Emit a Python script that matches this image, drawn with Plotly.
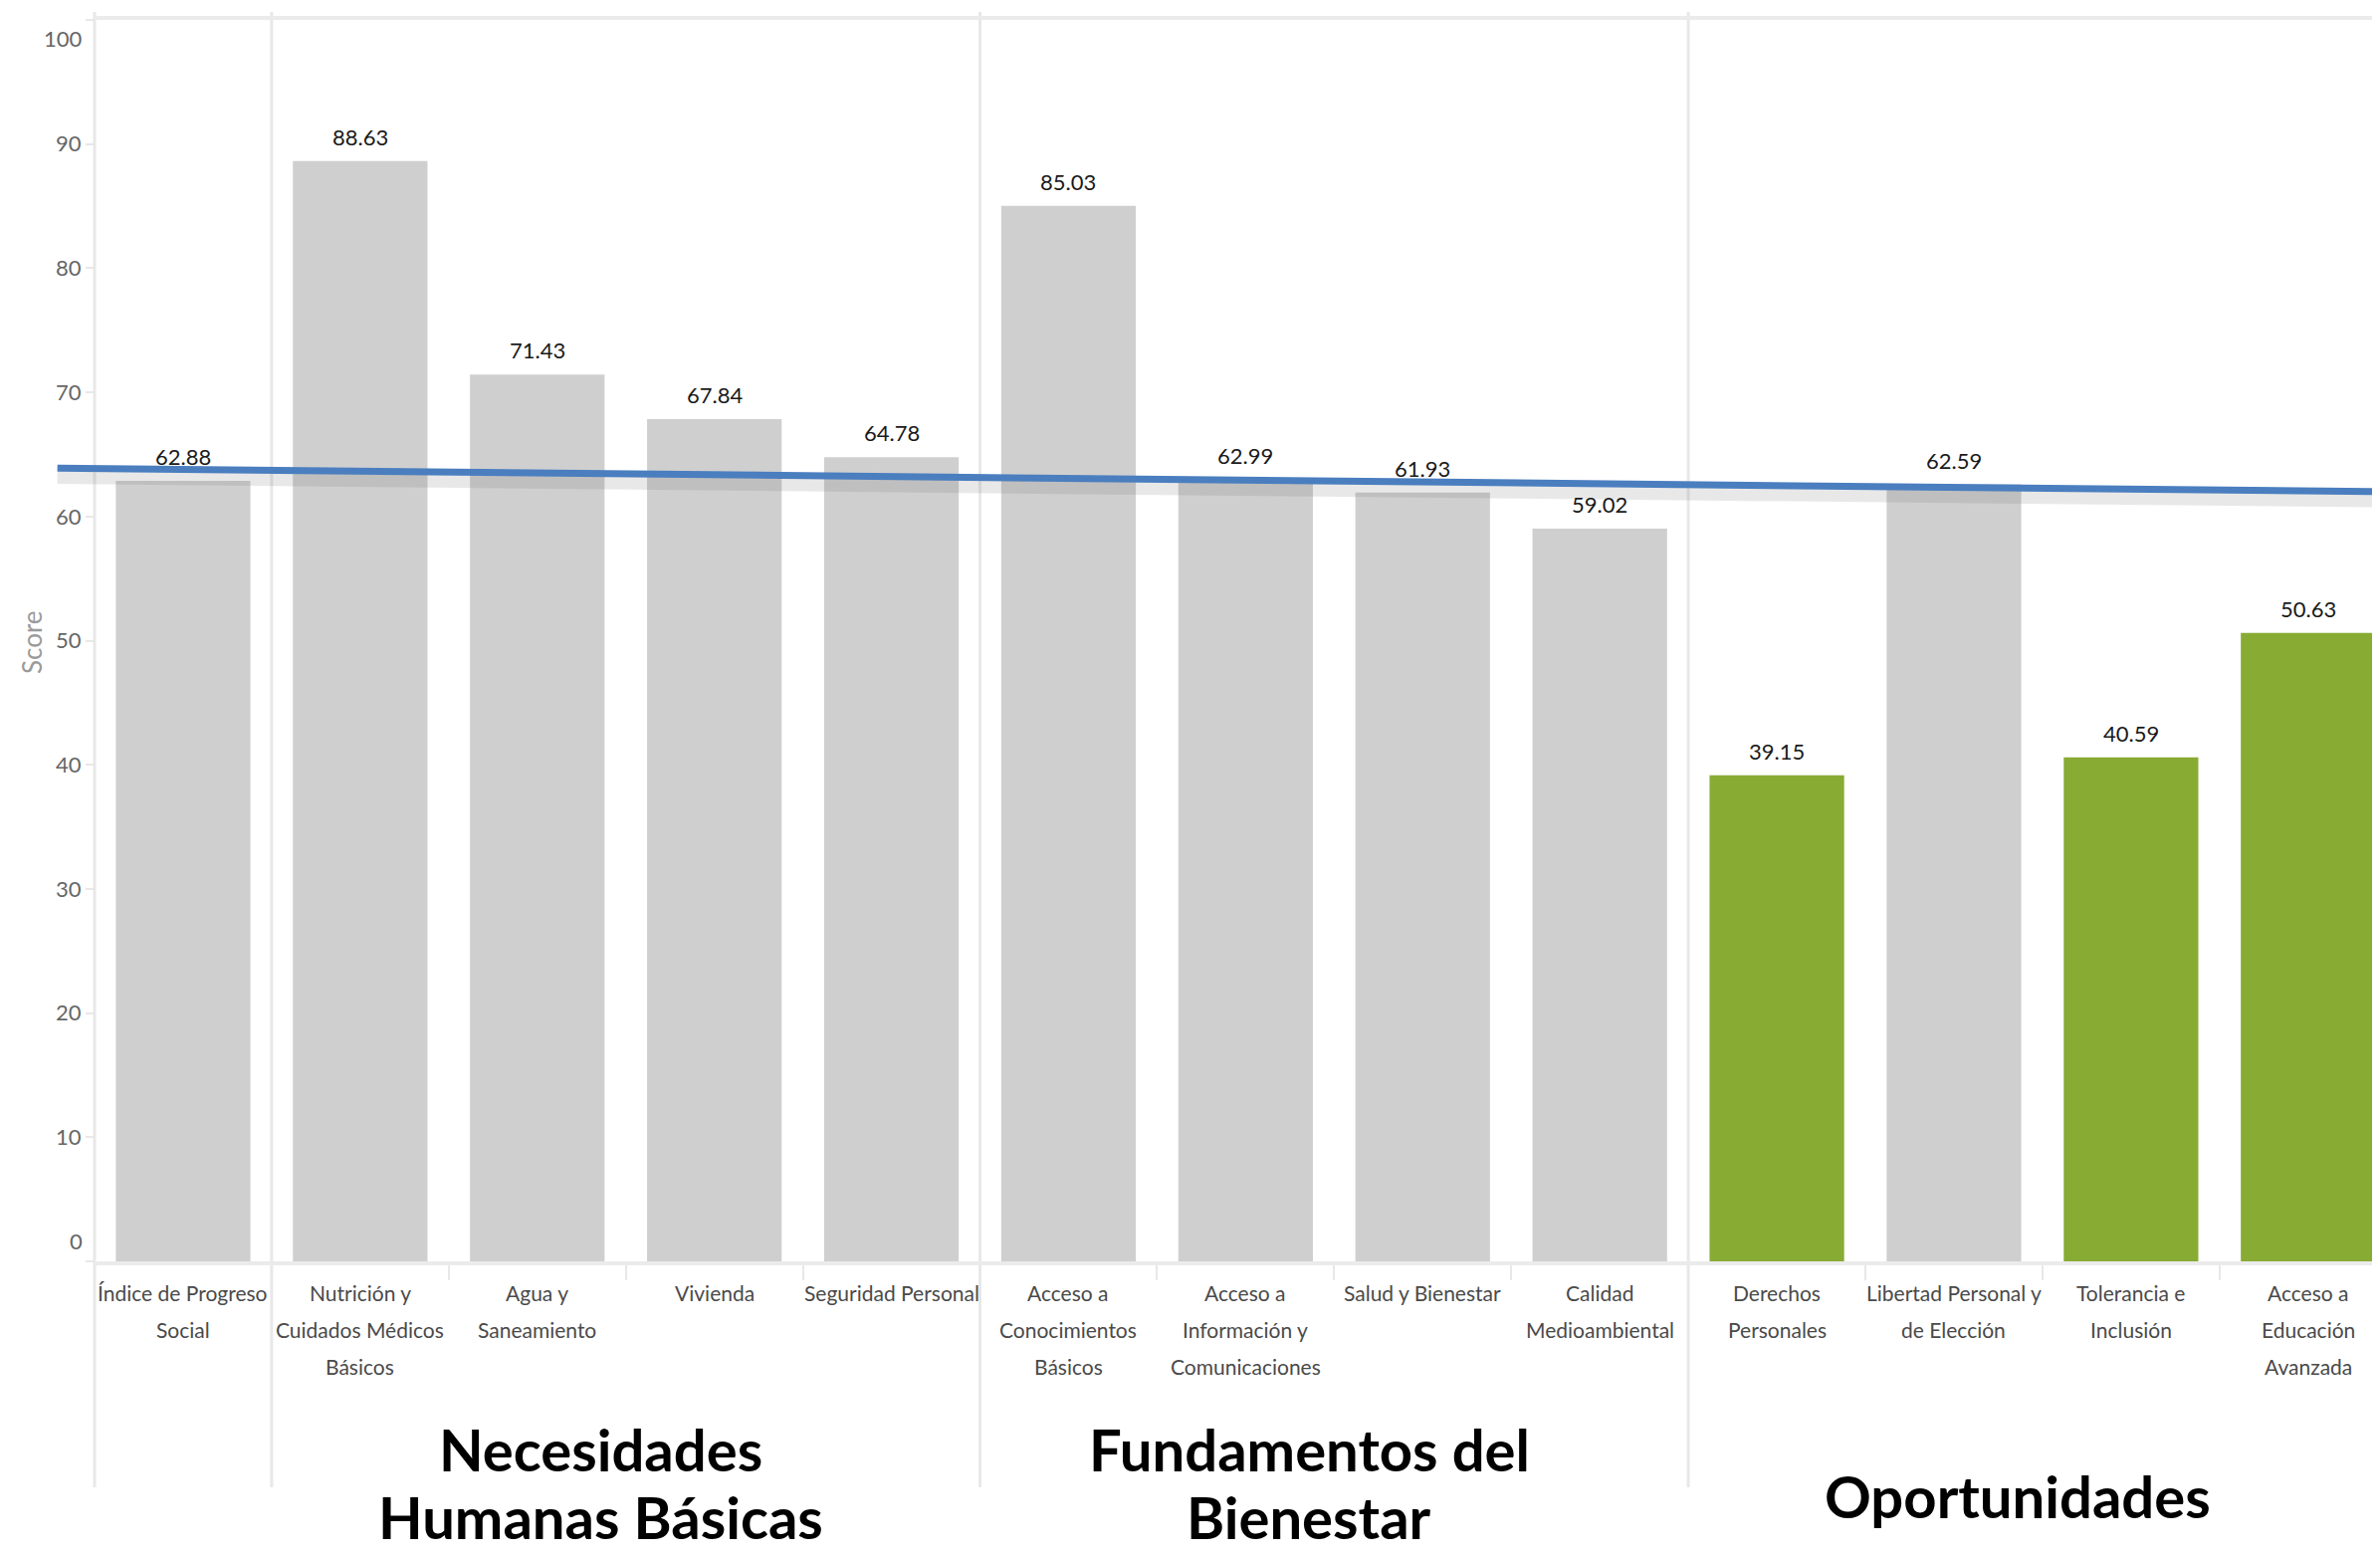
import plotly.graph_objects as go

# ---------------- data ----------------
categories = [
    "Índice de Progreso Social",
    "Nutrición y Cuidados Médicos Básicos",
    "Agua y Saneamiento",
    "Vivienda",
    "Seguridad Personal",
    "Acceso a Conocimientos Básicos",
    "Acceso a Información y Comunicaciones",
    "Salud y Bienestar",
    "Calidad Medioambiental",
    "Derechos Personales",
    "Libertad Personal y de Elección",
    "Tolerancia e Inclusión",
    "Acceso a Educación Avanzada",
]
tick_label_lines = [
    ["Índice de Progreso", "Social"],
    ["Nutrición y", "Cuidados Médicos", "Básicos"],
    ["Agua y", "Saneamiento"],
    ["Vivienda"],
    ["Seguridad Personal"],
    ["Acceso a", "Conocimientos", "Básicos"],
    ["Acceso a", "Información y", "Comunicaciones"],
    ["Salud y Bienestar"],
    ["Calidad", "Medioambiental"],
    ["Derechos", "Personales"],
    ["Libertad Personal y", "de Elección"],
    ["Tolerancia e", "Inclusión"],
    ["Acceso a", "Educación", "Avanzada"],
]
scores = [62.88, 88.63, 71.43, 67.84, 64.78, 85.03, 62.99, 61.93, 59.02, 39.15, 62.59, 40.59, 50.63]
highlighted = ["Derechos Personales", "Tolerancia e Inclusión", "Acceso a Educación Avanzada"]

group_names = [["Necesidades", "Humanas Básicas"], ["Fundamentos del", "Bienestar"], ["Oportunidades"]]
group_members = [[1, 2, 3, 4], [5, 6, 7, 8], [9, 10, 11, 12]]

trend_x = [-0.71, 12.41]
trend_y = [63.9, 62.0]

y_ticks = [0, 10, 20, 30, 40, 50, 60, 70, 80, 90, 100]

# ---------------- styling ----------------
# the page body has an 8px margin, so the figure is 8px smaller than the window
W, H = 2383, 1557
LEFT_PX = 87
X_MAX = 12.406
FONT = "Lato, Liberation Sans, Arial, sans-serif"
GRAY = "#cfcfcf"
GREEN = "#88ab34"
LINE_GRAY = "#e8e8e8"
SHADOW_OFFSET = 0.7
CAT_FIRST_LINE_PX = 31
CAT_LINE_STEP_PX = 37
Y_TICKLEN = 8

unit_px = (W - LEFT_PX) / (X_MAX + 0.5)
x2_start = -0.5 - LEFT_PX / unit_px
y_min, y_max = min(y_ticks), max(y_ticks)

colors = [GREEN if c in highlighted else GRAY for c in categories]

fig = go.Figure()
fig.add_trace(go.Bar(
    x=categories, y=scores, marker=dict(color=colors, line=dict(width=0)),
    width=0.76, hoverinfo="x+y", showlegend=False,
))
fig.add_trace(go.Scatter(
    x=trend_x, y=[v - SHADOW_OFFSET for v in trend_y], xaxis="x2", yaxis="y", mode="lines",
    line=dict(color="rgba(100,100,100,0.15)", width=14), showlegend=False, hoverinfo="skip",
))
fig.add_trace(go.Scatter(
    x=trend_x, y=trend_y, xaxis="x2", yaxis="y", mode="lines",
    line=dict(color="#4a7ebf", width=7), showlegend=False, hoverinfo="skip",
))

annotations = []
# value labels above bars
for i, v in enumerate(scores):
    annotations.append(dict(
        x=i, y=v, xref="x", yref="y", text=f"{v:.2f}", showarrow=False,
        yanchor="bottom", yshift=9, font=dict(family=FONT, size=22, color="#1a1a1a"),
    ))

# category labels (one annotation per line to keep the tall line spacing)
for i, lines in enumerate(tick_label_lines):
    for k, line in enumerate(lines):
        annotations.append(dict(
            x=i, y=0, xref="x", yref="paper", text=line, showarrow=False,
            xanchor="center", yanchor="middle",
            yshift=-(CAT_FIRST_LINE_PX + k * CAT_LINE_STEP_PX),
            font=dict(family=FONT, size=21, color="#4a4a4a"),
        ))

# end-of-axis tick labels are nudged inside the plot, as in the original
for t, shift in ((y_max, -18), (y_min, 21)):
    annotations.append(dict(
        x=LEFT_PX / W, y=t, xref="paper", yref="y", text=str(t), showarrow=False,
        xanchor="right", yanchor="middle", xshift=-(Y_TICKLEN + 2), yshift=shift,
        font=dict(family=FONT, size=22, color="#666666"),
    ))

# group labels
group_line_y = [-0.1508, -0.2053]
single_line_y = -0.1885
for names, members in zip(group_names, group_members):
    cx = sum(members) / len(members) - 0.14
    ys = group_line_y if len(names) > 1 else [single_line_y]
    for name, yy in zip(names, ys):
        annotations.append(dict(
            x=cx, y=yy, xref="x", yref="paper", text=f"<b>{name}</b>", showarrow=False,
            xanchor="center", yanchor="middle",
            font=dict(family=FONT, size=58, color="#000000"),
        ))

annotations.append(dict(
    x=0.0101, y=0.4988, xref="paper", yref="paper", text="Score", showarrow=False,
    xanchor="center", yanchor="middle",
    textangle=-90, font=dict(family=FONT, size=26, color="#9a9a9a"),
))

shapes = []
sep_positions = [-0.5] + [min(m) - 0.5 for m in group_members]
for sx in sep_positions:
    shapes.append(dict(
        type="line", xref="x2", yref="paper", x0=sx, x1=sx, y0=-0.182, y1=1.0064,
        line=dict(color=LINE_GRAY, width=3), layer="below",
    ))

fig.update_layout(
    width=W, height=H,
    margin=dict(l=0, r=0, t=12, b=298),
    paper_bgcolor="white", plot_bgcolor="rgba(0,0,0,0)",
    xaxis=dict(
        type="category", domain=[LEFT_PX / W, 1], range=[-0.5, X_MAX],
        showticklabels=False,
        tickson="boundaries", ticks="outside", ticklen=15, tickwidth=2, tickcolor=LINE_GRAY,
        showline=True, mirror=True, linecolor="#ebebeb", linewidth=4,
        showgrid=False, zeroline=False, automargin=False,
    ),
    xaxis2=dict(domain=[0, 1], range=[x2_start, X_MAX], anchor="y", visible=False),
    yaxis=dict(
        range=[y_min, y_max], tickmode="array", tickvals=y_ticks,
        ticktext=["" if t in (y_min, y_max) else str(t) for t in y_ticks],
        ticks="outside", ticklen=Y_TICKLEN, tickwidth=2, tickcolor=LINE_GRAY,
        showline=False, showgrid=False, zeroline=False, automargin=False,
        tickfont=dict(family=FONT, size=22, color="#666666"),
    ),
    annotations=annotations,
    shapes=shapes,
)

fig.write_html("out.html")
